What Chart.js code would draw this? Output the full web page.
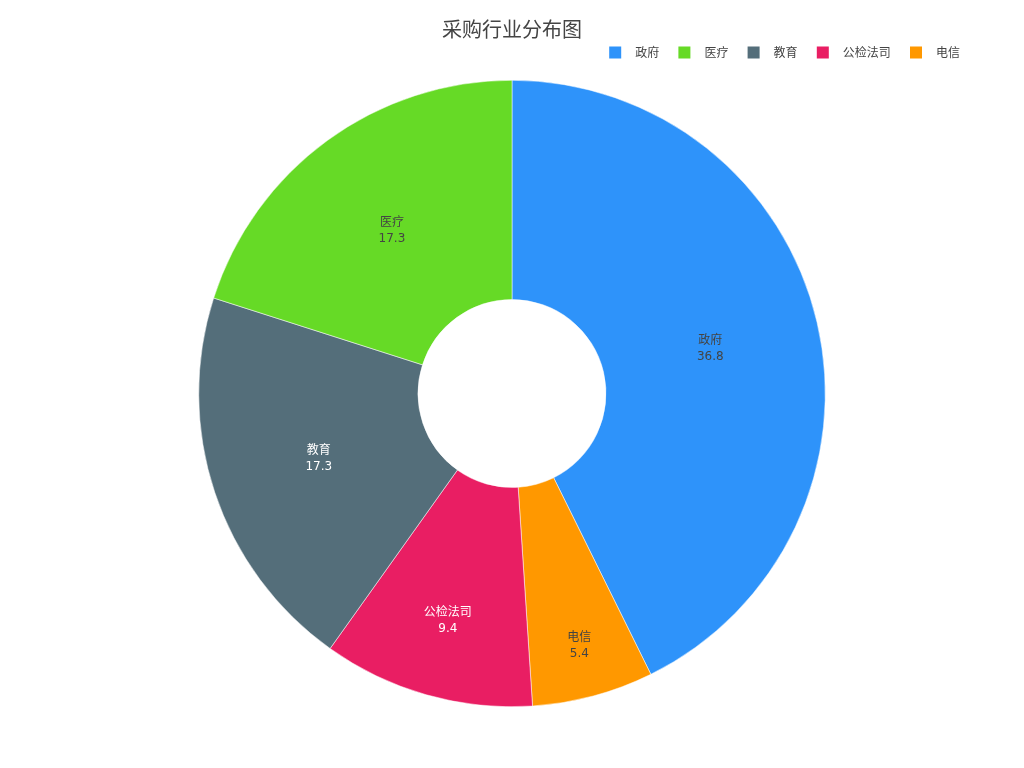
<!DOCTYPE html>
<html>
<head>
<meta charset="utf-8">
<title>采购行业分布图</title>
<script src="https://cdn.jsdelivr.net/npm/chart.js@4/dist/chart.umd.min.js"></script>
<style>
  html, body { margin: 0; padding: 0; background: #fff; }
  #wrap { width: 1024px; height: 768px; }
</style>
</head>
<body>
<div id="wrap"><canvas id="myChart" width="1024" height="768"></canvas></div>
<script>
// data, in legend order
const title = "采购行业分布图";
const categories = ["政府", "医疗", "教育", "公检法司", "电信"];
const values = [36.8, 17.3, 17.3, 9.4, 5.4];
const colors = ["#2E93FA", "#66DA26", "#546E7A", "#E91E63", "#FF9800"];
const textColors = ["#444444", "#444444", "#ffffff", "#ffffff", "#444444"];

// the reference runs counterclockwise from the end of the first slice,
// so draw clockwise with the first slice first and the rest reversed
const drawOrder = [0].concat(categories.map((c, i) => i).slice(1).reverse());

const FONT = '"DejaVu Sans", "Noto Sans CJK SC", sans-serif';

const sliceLabels = {
  id: "sliceLabels",
  afterDatasetsDraw(chart) {
    const ctx = chart.ctx;
    const meta = chart.getDatasetMeta(0);
    ctx.save();
    ctx.font = "12px " + FONT;
    ctx.textAlign = "center";
    ctx.textBaseline = "middle";
    meta.data.forEach((arc, i) => {
      const k = drawOrder[i];
      const p = arc.getProps(["x", "y", "startAngle", "endAngle", "innerRadius", "outerRadius"], true);
      const mid = (p.startAngle + p.endAngle) / 2;
      const span = (p.endAngle - p.startAngle) * 180 / Math.PI;
      // narrow slices get their text pushed outward
      const frac = 0.5 + 0.0068 * Math.max(0, 60 - span);
      const r = p.innerRadius + frac * (p.outerRadius - p.innerRadius);
      const x = p.x + Math.cos(mid) * r;
      const y = p.y + Math.sin(mid) * r + 1.5;
      ctx.fillStyle = textColors[k];
      ctx.fillText(categories[k], x, y - 8);
      ctx.fillText(values[k].toFixed(1), x, y + 8);
    });
    ctx.restore();
  }
};

const titleAndLegend = {
  id: "titleAndLegend",
  afterDraw(chart) {
    const ctx = chart.ctx;
    ctx.save();
    ctx.fillStyle = "#444444";
    ctx.font = "20px " + FONT;
    ctx.textAlign = "center";
    ctx.textBaseline = "middle";
    ctx.fillText(title, 512, 32);

    ctx.font = "12px " + FONT;
    ctx.textAlign = "left";
    const box = 12, textGap = 14, itemGap = 19.2;
    const widths = categories.map(c => box + textGap + ctx.measureText(c).width);
    let total = widths.reduce((a, b) => a + b, 0) + itemGap * (categories.length - 1);
    let x = 960 - total;
    const y = 52.5;
    categories.forEach((c, i) => {
      ctx.fillStyle = colors[i];
      ctx.fillRect(x, y - box / 2, box, box);
      ctx.fillStyle = "#444444";
      ctx.fillText(c, x + box + textGap, y + 1);
      x += widths[i] + itemGap;
    });
    ctx.restore();
  }
};

new Chart(document.getElementById("myChart").getContext("2d"), {
  type: "doughnut",
  data: {
    labels: drawOrder.map(i => categories[i]),
    datasets: [
      {
        data: drawOrder.map(i => values[i]),
        backgroundColor: drawOrder.map(i => colors[i]),
        borderColor: "#ffffff",
        borderWidth: 0.5,
        hoverOffset: 0
      }
    ]
  },
  options: {
    responsive: false,
    animation: false,
    cutout: "30%",
    rotation: 0,
    layout: { padding: { top: 80, bottom: 61, left: 0, right: 0 } },
    plugins: {
      legend: { display: false },
      title: { display: false },
      tooltip: { enabled: false }
    }
  },
  plugins: [sliceLabels, titleAndLegend]
});
</script>
</body>
</html>
